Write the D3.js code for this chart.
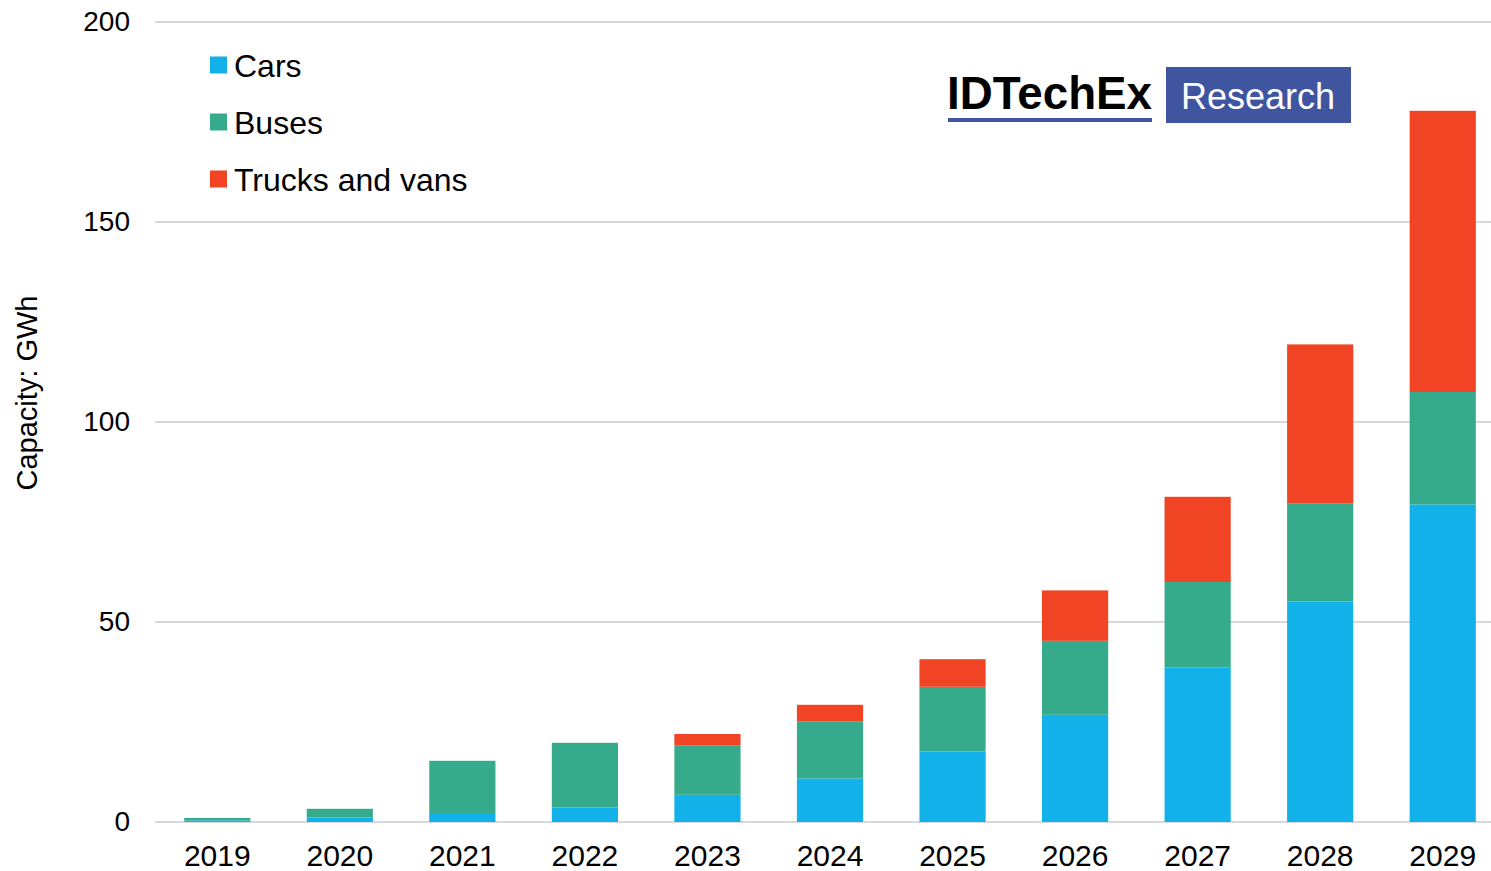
<!DOCTYPE html>
<html>
<head>
<meta charset="utf-8">
<title>Battery capacity by vehicle type</title>
<style>
  body { margin: 0; background: #fff; }
  svg { display: block; font-family: "Liberation Sans", Arial, sans-serif; }
</style>
</head>
<body>
<script src="https://cdn.jsdelivr.net/npm/d3@7"></script>
<script>
// data (GWh)
const years = ["2019", "2020", "2021", "2022", "2023", "2024", "2025", "2026", "2027", "2028", "2029"];
const cars = [0.4, 1.1, 2.0, 3.6, 6.8, 10.9, 17.6, 26.8, 38.6, 55.1, 79.4];
const buses = [0.6, 2.2, 13.3, 16.2, 12.3, 14.2, 16.2, 18.5, 21.4, 24.6, 28.1];
const trucks = [0, 0, 0, 0, 2.9, 4.2, 6.9, 12.6, 21.3, 39.7, 70.3];
const seriesNames = ["Cars", "Buses", "Trucks and vans"];
const colors = ["#12B1E9", "#35AB8B", "#F04425"];
const yTicks = [0, 50, 100, 150, 200];

const W = 1491, H = 871;
const svg = d3.select("body").append("svg")
    .attr("width", W)
    .attr("height", H);

const x = d3.scaleBand()
    .domain(years)
    .range([156, 1504])
    .paddingInner(0.46)
    .paddingOuter(0.23);

const y = d3.scaleLinear()
    .domain([0, 200])
    .range([822, 22]);

// gridlines
svg.append("g")
    .selectAll("line")
    .data(yTicks)
    .enter()
    .append("line")
    .attr("x1", 155)
    .attr("x2", W)
    .attr("y1", d => y(d))
    .attr("y2", d => y(d))
    .attr("stroke", "#D9D9D9")
    .attr("stroke-width", 2);

// y axis labels
const yAxis = svg.append("g")
    .attr("transform", "translate(130,0)")
    .call(d3.axisLeft(y).tickValues(yTicks).tickSize(0).tickPadding(0));
yAxis.select(".domain").remove();
yAxis.selectAll("text")
    .style("font-size", "28px")
    .attr("fill", "#000");

// x axis labels
const xAxis = svg.append("g")
    .attr("transform", "translate(0,845)")
    .call(d3.axisBottom(x).tickSize(0).tickPadding(0));
xAxis.select(".domain").remove();
xAxis.selectAll("text")
    .attr("dy", "0.71em")
    .style("font-size", "30px")
    .attr("fill", "#000");

// stacked bars
const rows = years.map((yr, i) => ({ year: yr, Cars: cars[i], Buses: buses[i], "Trucks and vans": trucks[i] }));
const stacked = d3.stack().keys(seriesNames)(rows);

svg.append("g")
    .selectAll("g")
    .data(stacked)
    .enter()
    .append("g")
    .attr("fill", (d, i) => colors[i])
    .selectAll("rect")
    .data(d => d)
    .enter()
    .append("rect")
    .attr("x", d => x(d.data.year))
    .attr("width", x.bandwidth())
    .attr("y", d => y(d[1]))
    .attr("height", d => y(d[0]) - y(d[1]));

// y axis title
svg.append("text")
    .attr("transform", "translate(37,393) rotate(-90)")
    .attr("text-anchor", "middle")
    .style("font-size", "29px")
    .text("Capacity: GWh");

// legend
const legend = svg.append("g")
    .selectAll("g")
    .data(seriesNames)
    .enter()
    .append("g")
    .attr("transform", (d, i) => `translate(210,${65 + i * 57})`);
legend.append("rect")
    .attr("y", -8.5)
    .attr("width", 17)
    .attr("height", 17)
    .attr("fill", (d, i) => colors[i]);
legend.append("text")
    .attr("x", 24)
    .attr("dy", "0.36em")
    .style("font-size", "32px")
    .text(d => d);

// IDTechEx logo
const logo = svg.append("g");
logo.append("text")
    .attr("x", 947)
    .attr("y", 109)
    .attr("textLength", 205)
    .attr("lengthAdjust", "spacingAndGlyphs")
    .style("font-size", "46px")
    .style("font-weight", "bold")
    .text("IDTechEx");
logo.append("rect")
    .attr("x", 948)
    .attr("y", 118)
    .attr("width", 204)
    .attr("height", 4)
    .attr("fill", "#3F55A0");
logo.append("rect")
    .attr("x", 1166)
    .attr("y", 67)
    .attr("width", 185)
    .attr("height", 56)
    .attr("fill", "#3F55A0");
logo.append("text")
    .attr("x", 1258)
    .attr("y", 109)
    .attr("text-anchor", "middle")
    .attr("fill", "#fff")
    .style("font-size", "36px")
    .text("Research");
</script>
</body>
</html>
